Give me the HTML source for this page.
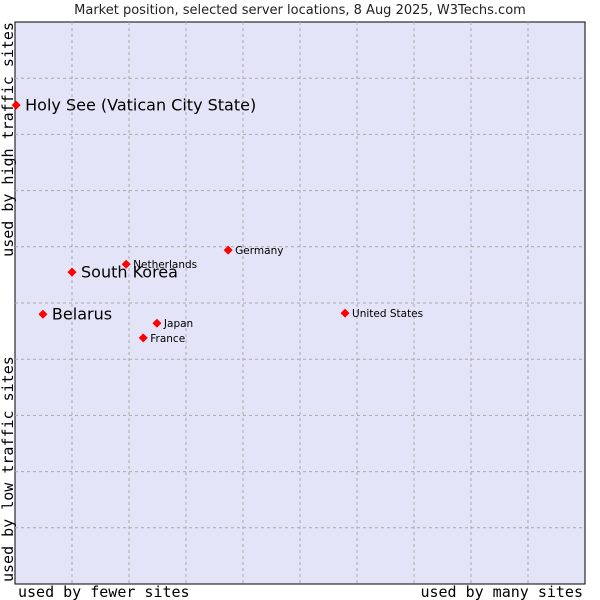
<!DOCTYPE html>
<html><head><meta charset="utf-8"><style>
body{margin:0;background:#fff;width:600px;height:600px;overflow:hidden}
svg{display:block}
</style></head><body>
<svg id="chart" width="600" height="600" xmlns="http://www.w3.org/2000/svg">
<text x="300" y="14" text-anchor="middle" font-family="DejaVu Sans, sans-serif" font-size="13" fill="#222">Market position, selected server locations, 8 Aug 2025, W3Techs.com</text>
<rect x="15" y="22" width="570" height="562" fill="#e3e4f7" stroke="#000" stroke-width="1"/>
<g id="grid"></g>
<g id="points"></g>
<text x="18" y="597" font-family="DejaVu Sans Mono, monospace" font-size="15" fill="#000">used by fewer sites</text>
<text x="583" y="597" text-anchor="end" font-family="DejaVu Sans Mono, monospace" font-size="15" fill="#000">used by many sites</text>
<text transform="translate(13,22) rotate(-90)" text-anchor="end" font-family="DejaVu Sans Mono, monospace" font-size="15" fill="#000">used by high traffic sites</text>
<text transform="translate(13,582) rotate(-90)" font-family="DejaVu Sans Mono, monospace" font-size="15" fill="#000">used by low traffic sites</text>
</svg>
<script>
const names = ["Holy See (Vatican City State)","Netherlands","South Korea","Germany","Belarus","Japan","France","United States"];
const xValues = [0.2,19.5,10,37.4,4.9,24.9,22.5,57.9];
const yValues = [85.2,56.9,55.5,59.4,48.0,46.4,43.8,48.2];
const bigLabel = [true,false,true,false,true,false,false,false];
const NS="http://www.w3.org/2000/svg";
const L=15,T=22,W=570,H=562;
const xs=v=>L+v/100*W, ys=v=>T+H-v/100*H;
const grid=document.getElementById('grid');
for(let i=1;i<10;i++){
  const a=document.createElementNS(NS,'line');
  a.setAttribute('x1',xs(i*10));a.setAttribute('x2',xs(i*10));a.setAttribute('y1',T);a.setAttribute('y2',T+H);
  a.setAttribute('stroke','#aaa');a.setAttribute('stroke-dasharray','3,3');
  
  
  grid.appendChild(a);
  const b=document.createElementNS(NS,'line');
  b.setAttribute('y1',ys(i*10));b.setAttribute('y2',ys(i*10));b.setAttribute('x1',L);b.setAttribute('x2',L+W);
  b.setAttribute('stroke','#aaa');b.setAttribute('stroke-dasharray','3,3');
  
  
  grid.appendChild(b);
}
const pts=document.getElementById('points');
names.forEach((n,i)=>{
  const x=xs(xValues[i]),y=ys(yValues[i]);
  const d=document.createElementNS(NS,'path');
  d.setAttribute('d',`M${x} ${y-4.5}L${x+4.5} ${y}L${x} ${y+4.5}L${x-4.5} ${y}Z`);
  d.setAttribute('fill','#f00');
  
  
  pts.appendChild(d);
  const t=document.createElementNS(NS,'text');
  t.setAttribute('x',x+(bigLabel[i]?9:7));
  t.setAttribute('y',y+(bigLabel[i]?5.5:4));
  t.setAttribute('font-family','DejaVu Sans, sans-serif');
  t.setAttribute('font-size',bigLabel[i]?'16':'10.5');
  t.setAttribute('fill','#000');
  t.textContent=n;
  
  
  pts.appendChild(t);
});
</script>
</body></html>
